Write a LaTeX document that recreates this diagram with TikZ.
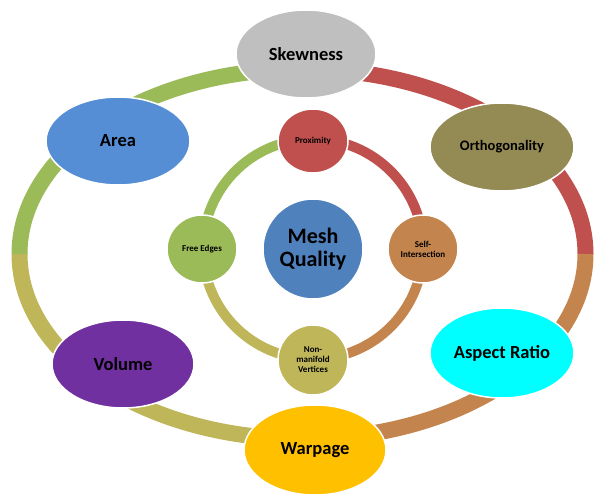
\documentclass[tikz,border=0pt]{standalone}
\usepackage{fontspec}
\setmainfont{Carlito}
\usetikzlibrary{shapes.geometric}
\definecolor{cgreen}{HTML}{9BBB59}
\definecolor{cred}{HTML}{C0504D}
\definecolor{cbrown}{HTML}{C4844E}
\definecolor{colive}{HTML}{BFB65A}
\definecolor{cgray}{HTML}{BFBFBF}
\definecolor{cblue}{HTML}{558ED5}
\definecolor{cmesh}{HTML}{4F81BD}
\definecolor{cdolive}{HTML}{948A54}
\definecolor{cpurple}{HTML}{7030A0}
\definecolor{ccyan}{HTML}{00FFFF}
\definecolor{cgold}{HTML}{FFC000}
\tikzset{
  bignode/.style={ellipse, draw=white, line width=1.5pt, inner sep=0pt, text=black,
    font=\bfseries\fontsize{18.5}{22}\selectfont, minimum width=144pt, minimum height=88pt},
  smallnode/.style={ellipse, draw=white, line width=1.5pt, inner sep=0pt, text=black,
    font=\bfseries\fontsize{9}{10}\selectfont, align=center, minimum width=70pt, minimum height=68pt},
  outerband/.style={line width=16pt},
  innerband/.style={line width=10pt},
}
\begin{document}
\begin{tikzpicture}[x=1pt,y=-1pt]
\useasboundingbox (0,0) rectangle (605,500);
\fill[white] (0,0) rectangle (605,500);
% ring centres
\coordinate (oc) at (302.5,254);
\coordinate (ic) at (313,249);
% outer ring
\draw[outerband, cgreen] (oc) ++(180:283pt and 185pt) arc[start angle=180, end angle=90, x radius=283pt, y radius=185pt];
\draw[outerband, cred] (oc) ++(90:283pt and 185pt) arc[start angle=90, end angle=0, x radius=283pt, y radius=185pt];
\draw[outerband, cbrown] (oc) ++(0:283pt and 185pt) arc[start angle=0, end angle=-90, x radius=283pt, y radius=185pt];
\draw[outerband, colive] (oc) ++(-90:283pt and 185pt) arc[start angle=-90, end angle=-180, x radius=283pt, y radius=185pt];
% inner ring
\draw[innerband, cgreen] (ic) ++(180:110pt) arc[start angle=180, end angle=90, radius=110pt];
\draw[innerband, cred] (ic) ++(90:110pt) arc[start angle=90, end angle=0, radius=110pt];
\draw[innerband, cbrown] (ic) ++(0:110pt) arc[start angle=0, end angle=-90, radius=110pt];
\draw[innerband, colive] (ic) ++(-90:110pt) arc[start angle=-90, end angle=-180, radius=110pt];
% outer nodes
\node[bignode, fill=cgray, minimum width=140pt] (skew) at (306,54) {Skewness};
\node[bignode, fill=cblue] (area) at (118,141) {Area};
\node[bignode, fill=cdolive, font=\bfseries\fontsize{14.5}{17}\selectfont] (orth) at (502,147) {Orthogonality};
\node[bignode, fill=cpurple, minimum width=142pt] (vol) at (123,364) {Volume};
\node[bignode, fill=ccyan, minimum height=90pt] (asp) at (502,353) {Aspect Ratio};
\node[bignode, fill=cgold, minimum width=142pt, minimum height=90pt] (warp) at (315,450) {Warpage};
% inner nodes
\node[circle, draw=white, line width=1.5pt, fill=cmesh, minimum size=100pt, inner sep=0pt, align=center,
  font=\bfseries\fontsize{22}{23}\selectfont] (mesh) at (313,249) {Mesh\\Quality};
\node[smallnode, fill=cred, minimum height=64pt] (prox) at (313,141) {Proximity};
\node[smallnode, fill=cgreen] (free) at (202,249) {Free Edges};
\node[smallnode, fill=cbrown] (self) at (423,249) {Self-\\Intersection};
\node[smallnode, fill=colive, minimum height=70pt] (nonm) at (313,360) {Non-\\manifold\\Vertices};
\end{tikzpicture}
\end{document}
